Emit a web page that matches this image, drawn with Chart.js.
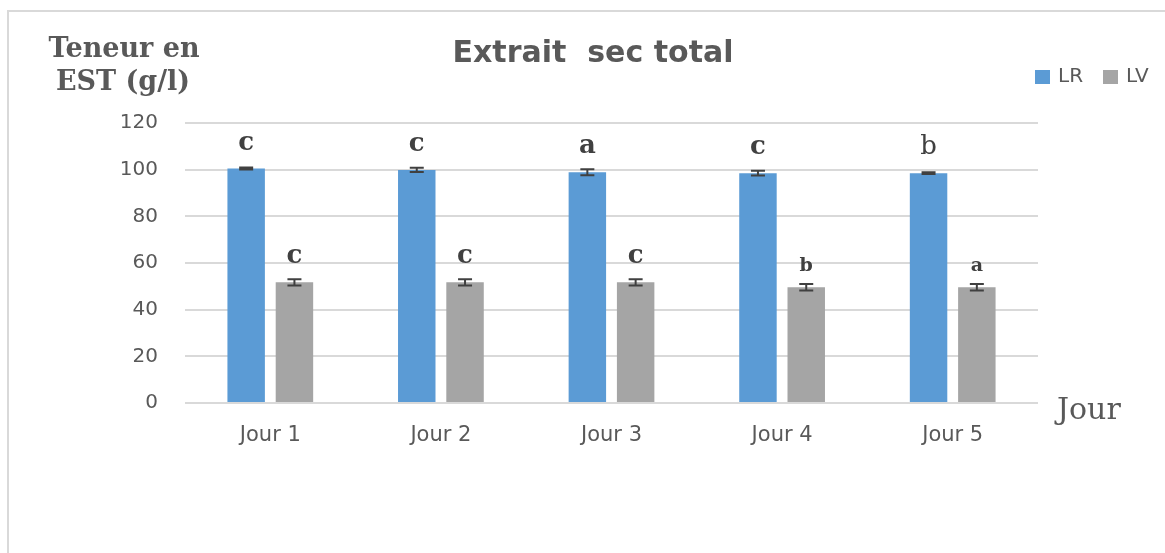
<!DOCTYPE html>
<html>
<head>
<meta charset="utf-8">
<script src="https://cdn.jsdelivr.net/npm/chart.js@4.4.1/dist/chart.umd.min.js"></script>
<style>
  html, body { margin: 0; padding: 0; background: #fff; overflow: hidden; }
  #frame { position: absolute; left: 7px; top: 10px; width: 1400px; height: 800px; border: 2px solid #d9d9d9; }
  #wrap { position: absolute; left: 0; top: 0; width: 1165px; height: 553px; }
</style>
</head>
<body>
<div id="frame"></div>
<div id="wrap"><canvas id="estChart" width="1165" height="553"></canvas></div>
<script>
const jours = ['Jour 1', 'Jour 2', 'Jour 3', 'Jour 4', 'Jour 5'];
const valeursLR = [100.5, 99.9, 98.9, 98.5, 98.5];
const valeursLV = [51.7, 51.7, 51.7, 49.6, 49.6];
const erreursLR = [0.4, 0.9, 1.3, 1.0, 0.4];
const erreursLV = [1.3, 1.3, 1.3, 1.4, 1.4];
const lettresLR = ['c', 'c', 'a', 'c', 'b'];
const lettresLV = ['c', 'c', 'c', 'b', 'a'];
const ticksY = [0, 20, 40, 60, 80, 100, 120];

const GRIS = '#595959';
const SANS = '"DejaVu Sans", sans-serif';
const SERIF = '"DejaVu Serif", serif';

// barres d'erreur + lettres de signification
const annotations = {
    id: 'annotations',
    afterDatasetsDraw(chart) {
        const ctx = chart.ctx;
        const y = chart.scales.y;
        chart.data.datasets.forEach((ds, i) => {
            const meta = chart.getDatasetMeta(i);
            meta.data.forEach((bar, j) => {
                const v = ds.data[j];
                const e = ds.erreurs[j];
                const yh = y.getPixelForValue(v + e);
                const yl = y.getPixelForValue(v - e);
                ctx.save();
                ctx.strokeStyle = '#404040';
                ctx.lineWidth = 2;
                ctx.beginPath();
                ctx.moveTo(bar.x, yh); ctx.lineTo(bar.x, yl);
                ctx.moveTo(bar.x - 7, yh); ctx.lineTo(bar.x + 7, yh);
                ctx.moveTo(bar.x - 7, yl); ctx.lineTo(bar.x + 7, yl);
                ctx.stroke();

                const l = ds.lettres[j];
                const petit = (i === 1 && j >= 3);
                const normal = (i === 0 && j === 4);
                ctx.fillStyle = '#404040';
                ctx.textAlign = 'center';
                ctx.textBaseline = 'alphabetic';
                ctx.font = (normal ? '' : 'bold ') + (petit ? '19px ' : '26px ') + SERIF;
                ctx.fillText(l, bar.x, y.getPixelForValue(v) - (petit ? 16 : 19));
                ctx.restore();
            });
        });
    }
};

// titre, titres d'axes et legende
const textes = {
    id: 'textes',
    afterDraw(chart) {
        const ctx = chart.ctx;
        ctx.save();
        ctx.fillStyle = GRIS;
        ctx.textBaseline = 'middle';
        ctx.textAlign = 'center';
        ctx.font = 'bold 30px ' + SANS;
        ctx.fillText('Extrait  sec total', 593, 54);

        ctx.font = 'bold 27px ' + SERIF;
        ctx.fillText('Teneur en', 124, 50);
        ctx.fillText('EST (g/l)', 123, 83);

        ctx.textAlign = 'left';
        ctx.font = '30px ' + SERIF;
        ctx.fillText('Jour', 1057, 411);

        ctx.font = '20px ' + SANS;
        let x = 1035;
        chart.data.datasets.forEach(ds => {
            ctx.fillStyle = ds.backgroundColor;
            ctx.fillRect(x, 70, 15, 14);
            ctx.fillStyle = GRIS;
            ctx.fillText(ds.label, x + 23, 77);
            x += 68;
        });
        ctx.restore();
    }
};

new Chart(document.getElementById('estChart'), {
    type: 'bar',
    data: {
        labels: jours,
        datasets: [
            { label: 'LR', data: valeursLR, erreurs: erreursLR, lettres: lettresLR, backgroundColor: '#5b9bd5' },
            { label: 'LV', data: valeursLV, erreurs: erreursLV, lettres: lettresLV, backgroundColor: '#a5a5a5' }
        ]
    },
    options: {
        responsive: false,
        animation: false,
        categoryPercentage: 0.566,
        barPercentage: 0.776,
        layout: { padding: { top: 123, right: 127, left: 0, bottom: 0 } },
        plugins: {
            legend: { display: false },
            title: { display: false },
            tooltip: { enabled: false }
        },
        scales: {
            x: {
                grid: { display: false, drawTicks: false },
                border: { display: false },
                ticks: { color: GRIS, font: { family: SANS, size: 21 }, padding: 20 },
                afterFit(scale) { scale.height = 150; }
            },
            y: {
                min: 0,
                max: 120,
                afterBuildTicks(scale) { scale.ticks = ticksY.map(v => ({ value: v })); },
                grid: { color: '#d9d9d9', lineWidth: 2, drawTicks: false },
                border: { display: false },
                ticks: { color: GRIS, font: { family: SANS, size: 20 }, padding: 27 },
                afterFit(scale) { scale.width = 185; }
            }
        }
    },
    plugins: [annotations, textes]
});
</script>
</body>
</html>
